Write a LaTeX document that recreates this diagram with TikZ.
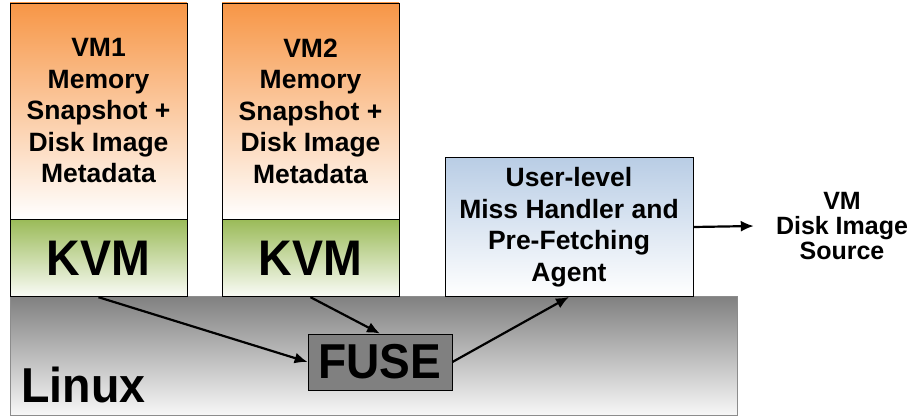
\documentclass[tikz,border=0pt]{standalone}
\usepackage{fontspec}
\setmainfont{Liberation Sans}
\usetikzlibrary{positioning,shadings,arrows.meta}

\definecolor{vmorange}{RGB}{247,150,70}
\definecolor{kvmgreen}{RGB}{155,187,89}
\definecolor{agentblue}{RGB}{185,205,229}
\definecolor{fusegray}{RGB}{128,128,128}

\tikzset{
    box/.style={draw, line width=0.8pt, inner sep=0pt, align=center,
        font=\bfseries\fontsize{26.5}{31.5}\selectfont},
    vmbox/.style={box, minimum width=177pt, minimum height=216pt,
        top color=vmorange, bottom color=white},
    kvmbox/.style={box, minimum width=177pt, minimum height=77pt,
        top color=kvmgreen, bottom color=white!95!kvmgreen,
        font=\bfseries\fontsize{50}{50}\selectfont},
    flow/.style={-{Latex[length=13pt,width=11pt]}, line width=2.2pt}
}

\begin{document}
\begin{tikzpicture}[x=1pt,y=-1pt]
        \useasboundingbox (0,0) rectangle (909,417);
        % kernel layer
            \node[box, draw=black!45, minimum width=727pt, minimum height=119pt,
                top color=fusegray, bottom color=black!3] (linux) at (373.5,355.5) {};
            \node[anchor=base west, inner sep=0pt, font=\bfseries\fontsize{49}{49}\selectfont]
                (linuxlabel) at (21,402) {\scalebox{0.95}[1]{Linux}};
        % guests
            \foreach \i/\x in {1/98.5,2/310.5}{
                \node[vmbox] (vm\i) at (\x,111) {VM\i\\Memory\\Snapshot +\\Disk Image\\Metadata};
                \node[kvmbox, below=0pt of vm\i] (kvm\i) {\scalebox{0.93}[1]{KVM}};
            }
        % user-level agent
            \node[box, minimum width=248pt, minimum height=139pt,
                top color=agentblue, bottom color=white] (agent) at (569,227)
                {User-level\\Miss Handler and\\Pre-Fetching\\Agent};
            \node[draw, line width=0.8pt, fill=fusegray, inner sep=0pt,
                minimum width=144pt, minimum height=56pt,
                font=\bfseries\fontsize{49}{49}\selectfont] (fuse) at (380,362)
                {\scalebox{0.94}[1]{FUSE}};
            \node[align=center, inner xsep=22pt, inner ysep=0pt,
                font=\bfseries\fontsize{25}{25}\selectfont] (source) at (842,226)
                {VM\\Disk Image\\Source};
        % page faults through FUSE
            \draw[flow] (kvm1.south) -- (fuse.west);
            \draw[flow] (kvm2.south) -- (fuse.north);
            \draw[flow] (fuse.east) -- (agent.south);
            \draw[flow] (agent.east) -- (source.west);
\end{tikzpicture}
\end{document}
